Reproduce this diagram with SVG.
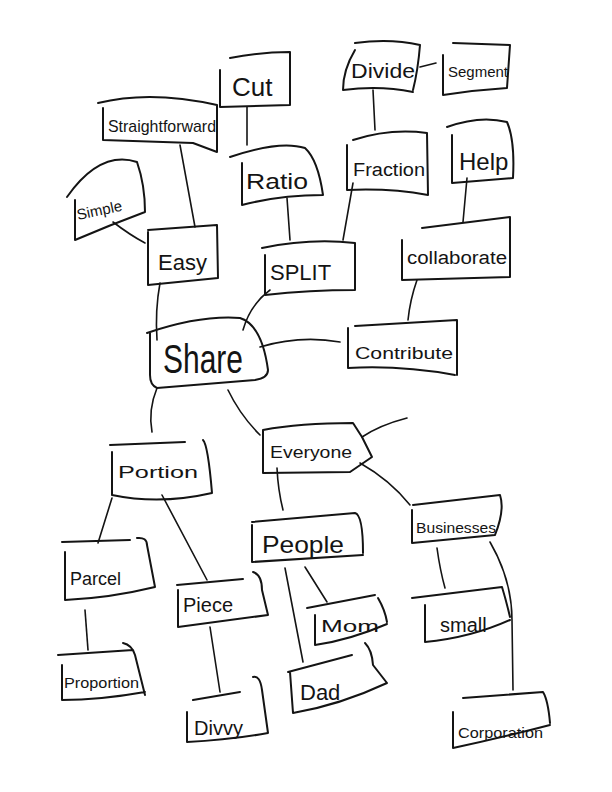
<svg xmlns="http://www.w3.org/2000/svg" width="612" height="792" viewBox="0 0 612 792">
<style>
.box{fill:none;stroke:#141414;stroke-width:2;stroke-linecap:round;stroke-linejoin:round}
.con{fill:none;stroke:#141414;stroke-width:1.6;stroke-linecap:round}
.lbl{font-family:"Liberation Sans","DejaVu Sans",sans-serif;fill:#141414}
</style>
<rect width="612" height="792" fill="#ffffff"/>
<g id="connectors">
<path class="con" d="M247,107 L247,145"/>
<path class="con" d="M180,145 L195,227"/>
<path class="con" d="M113,222 Q130,235 145,243"/>
<path class="con" d="M160,283 Q155,310 157,340"/>
<path class="con" d="M287,198 L290,240"/>
<path class="con" d="M353,183 L343,240"/>
<path class="con" d="M270,290 Q250,305 243,330"/>
<path class="con" d="M373,90 L375,130"/>
<path class="con" d="M420,67 L436,63"/>
<path class="con" d="M467,178 L463,222"/>
<path class="con" d="M417,280 Q410,300 408,320"/>
<path class="con" d="M260,347 Q300,335 340,342"/>
<path class="con" d="M157,388 Q148,410 152,432"/>
<path class="con" d="M228,390 Q240,415 260,435"/>
<path class="con" d="M362,437 Q380,425 407,418"/>
<path class="con" d="M360,463 Q390,480 410,505"/>
<path class="con" d="M277,468 Q278,490 283,510"/>
<path class="con" d="M112,498 L98,543"/>
<path class="con" d="M162,495 L207,580"/>
<path class="con" d="M85,610 L88,650"/>
<path class="con" d="M210,627 L220,692"/>
<path class="con" d="M285,568 L303,662"/>
<path class="con" d="M305,567 L327,602"/>
<path class="con" d="M437,548 Q440,570 445,588"/>
<path class="con" d="M490,542 Q512,580 512,620 L513,690"/>
</g>
<g id="cut"><path class="box" d="M230,58 Q260,52 290,52 L290,105 M220,70 L220,107 L290,105"/><text class="lbl" x="232" y="96" font-size="26">Cut</text></g>
<g id="straightforward"><path class="box" d="M98,103 Q150,90 217,105 L217,152 M103,108 L103,140 L193,143 L217,152"/><text class="lbl" x="108" y="132" font-size="17" textLength="108" lengthAdjust="spacingAndGlyphs">Straightforward</text></g>
<g id="simple"><path class="box" d="M67,197 Q100,150 137,162 Q145,185 145,212 M75,200 L75,240 Q110,225 145,212"/><text class="lbl" x="78" y="220" font-size="15" transform="rotate(-12 78 220)">Simple</text></g>
<g id="easy"><path class="box" d="M148,230 L217,225 L218,278 M148,232 L148,285 L218,278"/><text class="lbl" x="158" y="270" font-size="22">Easy</text></g>
<g id="ratio"><path class="box" d="M230,157 Q280,140 305,148 Q318,160 323,195 M242,163 L242,205 Q280,195 323,195"/><text class="lbl" x="246" y="189" font-size="22" textLength="62" lengthAdjust="spacingAndGlyphs">Ratio</text></g>
<g id="split"><path class="box" d="M262,248 Q310,238 355,243 L355,290 M265,255 L265,295 Q310,290 355,290"/><text class="lbl" x="270" y="280" font-size="22">SPLIT</text></g>
<g id="divide"><path class="box" d="M355,43 Q390,38 420,45 Q418,70 413,90 M355,50 Q343,70 343,90 Q380,85 413,92"/><text class="lbl" x="351" y="78" font-size="20" textLength="64" lengthAdjust="spacingAndGlyphs">Divide</text></g>
<g id="segment"><path class="box" d="M453,43 L510,45 L507,88 M443,55 L443,95 Q475,90 507,88"/><text class="lbl" x="448" y="77" font-size="15">Segment</text></g>
<g id="fraction"><path class="box" d="M353,140 Q390,128 427,133 L428,195 M347,145 L347,190 Q390,188 428,195"/><text class="lbl" x="353" y="176" font-size="18" textLength="72" lengthAdjust="spacingAndGlyphs">Fraction</text></g>
<g id="help"><path class="box" d="M447,127 Q480,115 507,122 Q515,140 513,178 M452,135 L452,183 L513,178"/><text class="lbl" x="459" y="170" font-size="24">Help</text></g>
<g id="collaborate"><path class="box" d="M422,228 L510,217 L510,277 M402,240 L402,280 L510,277"/><text class="lbl" x="407" y="264" font-size="18" textLength="100" lengthAdjust="spacingAndGlyphs">collaborate</text></g>
<g id="share"><path class="box" d="M147,333 Q200,315 240,318 Q262,325 268,370 Q268,378 255,380 L157,388 Q150,385 150,375 L150,333"/><text class="lbl" x="163" y="373" font-size="40" textLength="80" lengthAdjust="spacingAndGlyphs">Share</text></g>
<g id="contribute"><path class="box" d="M355,326 L457,320 L457,375 M348,328 L348,368 Q400,365 455,375"/><text class="lbl" x="355" y="359" font-size="17" textLength="98" lengthAdjust="spacingAndGlyphs">Contribute</text></g>
<g id="everyone"><path class="box" d="M263,430 Q300,423 353,423 L362,437 L372,457 L350,472 L263,473 Z"/><text class="lbl" x="270" y="458" font-size="16" textLength="82" lengthAdjust="spacingAndGlyphs">Everyone</text></g>
<g id="portion"><path class="box" d="M110,445 L185,442 M203,440 Q208,445 212,493 M112,452 L112,495 Q160,505 212,493"/><text class="lbl" x="118" y="478" font-size="17" textLength="80" lengthAdjust="spacingAndGlyphs">Portion</text></g>
<g id="parcel"><path class="box" d="M62,542 L130,540 M137,538 Q147,537 147,545 L155,587 M65,552 L65,600 Q110,598 155,587"/><text class="lbl" x="70" y="585" font-size="18">Parcel</text></g>
<g id="proportion"><path class="box" d="M58,655 L133,650 M123,643 Q132,645 135,655 L145,695 M62,665 L62,700 Q100,700 145,692"/><text class="lbl" x="64" y="688" font-size="14" textLength="75" lengthAdjust="spacingAndGlyphs">Proportion</text></g>
<g id="piece"><path class="box" d="M177,585 L243,579 M253,572 Q262,575 262,590 L268,615 M178,590 L178,627 L268,615"/><text class="lbl" x="183" y="612" font-size="20">Piece</text></g>
<g id="divvy"><path class="box" d="M193,700 L240,692 M253,677 Q260,675 262,690 L268,733 M187,712 L187,742 Q230,740 268,733"/><text class="lbl" x="194" y="735" font-size="20">Divvy</text></g>
<g id="people"><path class="box" d="M252,522 L355,513 Q363,515 363,553 M252,525 L252,562 L363,555"/><text class="lbl" x="262" y="553" font-size="24" textLength="82" lengthAdjust="spacingAndGlyphs">People</text></g>
<g id="mom"><path class="box" d="M307,608 L375,595 M378,598 Q385,610 387,622 M315,615 L315,645 Q350,640 387,624"/><text class="lbl" x="321" y="632" font-size="17" textLength="58" lengthAdjust="spacingAndGlyphs">Mom</text></g>
<g id="dad"><path class="box" d="M288,672 L352,655 M365,643 Q372,650 373,665 L387,683 M290,672 L293,713 Q340,705 387,683"/><text class="lbl" x="300" y="700" font-size="22">Dad</text></g>
<g id="businesses"><path class="box" d="M413,505 L500,495 Q505,510 495,535 M412,510 L412,543 L495,535"/><text class="lbl" x="416" y="533" font-size="15" textLength="80" lengthAdjust="spacingAndGlyphs">Businesses</text></g>
<g id="small"><path class="box" d="M412,598 L502,587 Q506,600 510,617 M425,605 L425,642 Q470,638 510,620"/><text class="lbl" x="440" y="632" font-size="20">small</text></g>
<g id="corporation"><path class="box" d="M463,698 L543,692 Q548,700 550,723 M453,712 L453,748 Q500,738 550,725"/><text class="lbl" x="458" y="738" font-size="15" textLength="85" lengthAdjust="spacingAndGlyphs">Corporation</text></g>
</svg>
